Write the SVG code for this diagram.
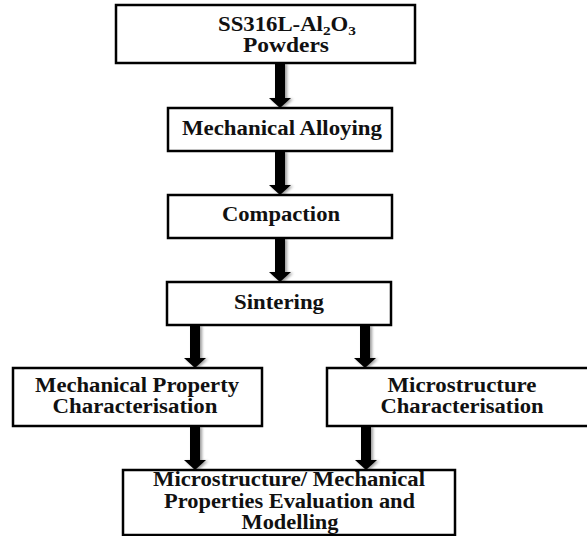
<svg xmlns="http://www.w3.org/2000/svg" width="587" height="536" viewBox="0 0 587 536">
<style>
.box{fill:#fff;stroke:#000;stroke-width:2.5}
.t{font-family:"Liberation Serif","Times New Roman",serif;font-weight:bold;font-size:20px;fill:#111;text-anchor:middle}
.sub{font-size:13.5px}
.arr{fill:#000;filter:url(#sh)}
</style>
<defs>
<filter id="sh" x="-50%" y="-20%" width="200%" height="140%">
<feGaussianBlur in="SourceAlpha" stdDeviation="1.5"/>
<feOffset dx="1.5" dy="0.5" result="b"/>
<feComponentTransfer><feFuncA type="linear" slope="0.4"/></feComponentTransfer>
<feMerge><feMergeNode/><feMergeNode in="SourceGraphic"/></feMerge>
</filter>
</defs>
<rect width="587" height="536" fill="#fff"/>
<g id="connectors">
<polygon class="arr" points="275,63 285,63 285,98 291,98 280,108 269,98 275,98"/>
<polygon class="arr" points="275,151 285,151 285,185 291,185 280,195 269,185 275,185"/>
<polygon class="arr" points="275,238 285,238 285,272 291,272 280,282 269,272 275,272"/>
<polygon class="arr" points="190,325 200,325 200,358 206,358 195,368 184,358 190,358"/>
<polygon class="arr" points="360,325 370,325 370,358 376,358 365,368 354,358 360,358"/>
<polygon class="arr" points="190,426 200,426 200,460 206,460 195,470 184,460 190,460"/>
<polygon class="arr" points="361,426 371,426 371,460 377,460 366,470 355,460 361,460"/>
</g>
<g id="powders">
<rect class="box" x="116" y="5" width="299" height="58"/>
<text class="t" x="287" y="31" textLength="138" lengthAdjust="spacingAndGlyphs">SS316L-Al<tspan class="sub" dy="3.5">2</tspan><tspan dy="-3.5">O</tspan><tspan class="sub" dy="3.5">3</tspan></text>
<text class="t" x="286" y="51.5" textLength="86" lengthAdjust="spacingAndGlyphs">Powders</text>
</g>
<g id="alloying">
<rect class="box" x="168" y="108" width="224" height="43"/>
<text class="t" x="282" y="135" textLength="200" lengthAdjust="spacingAndGlyphs">Mechanical Alloying</text>
</g>
<g id="compaction">
<rect class="box" x="168" y="195" width="224" height="43"/>
<text class="t" x="281" y="221" textLength="118" lengthAdjust="spacingAndGlyphs">Compaction</text>
</g>
<g id="sintering">
<rect class="box" x="167" y="282" width="224" height="43"/>
<text class="t" x="279" y="308.5" textLength="90" lengthAdjust="spacingAndGlyphs">Sintering</text>
</g>
<g id="mech-char">
<rect class="box" x="13" y="368" width="249" height="58"/>
<text class="t" x="137" y="391.5" textLength="204" lengthAdjust="spacingAndGlyphs">Mechanical Property</text>
<text class="t" x="135" y="412.5" textLength="165" lengthAdjust="spacingAndGlyphs">Characterisation</text>
</g>
<g id="micro-char">
<rect class="box" x="327" y="368" width="270" height="58"/>
<text class="t" x="462" y="391.5" textLength="149" lengthAdjust="spacingAndGlyphs">Microstructure</text>
<text class="t" x="462" y="412.5" textLength="163" lengthAdjust="spacingAndGlyphs">Characterisation</text>
</g>
<g id="evaluation">
<rect class="box" x="123" y="470" width="332" height="65"/>
<text class="t" x="289" y="485.5" textLength="272" lengthAdjust="spacingAndGlyphs">Microstructure/ Mechanical</text>
<text class="t" x="289.5" y="507.5" textLength="251" lengthAdjust="spacingAndGlyphs">Properties Evaluation and</text>
<text class="t" x="290" y="529" textLength="97" lengthAdjust="spacingAndGlyphs">Modelling</text>
</g>
</svg>
